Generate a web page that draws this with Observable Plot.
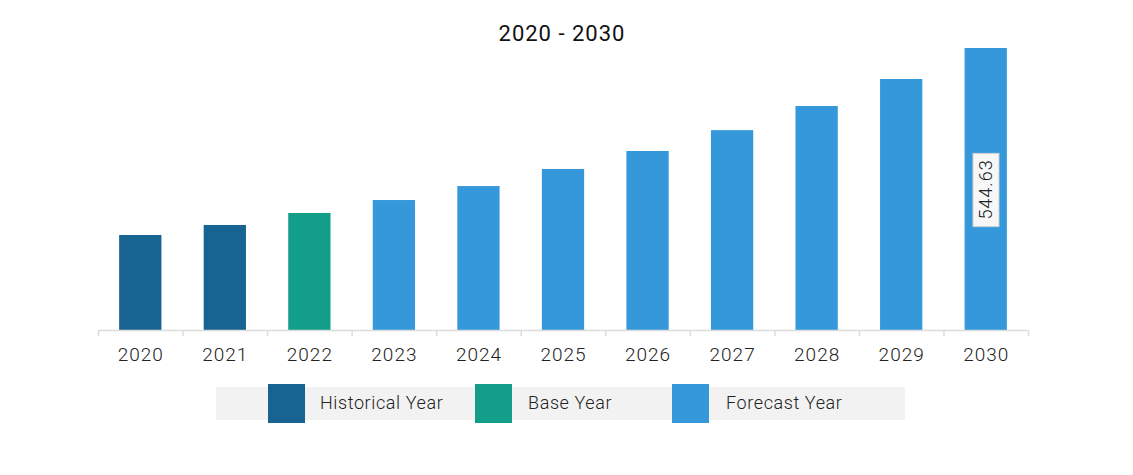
<!DOCTYPE html>
<html><head><meta charset="utf-8">
<script src="https://cdn.jsdelivr.net/npm/d3@7"></script>
<script src="https://cdn.jsdelivr.net/npm/@observablehq/plot@0.6"></script>
<style>
body{margin:0;background:#fff;font-family:Roboto,"Liberation Sans",sans-serif;}
#wrap{position:relative;width:1133px;height:475px;}
#title{position:absolute;left:0;width:1124px;top:21px;text-align:center;font-size:22px;color:#111;letter-spacing:1px;}
#legend{position:absolute;left:216px;top:387px;width:689px;height:33px;background:#f2f2f2;}
.sw{position:absolute;top:-3px;width:37px;height:39px;}
.lt{position:absolute;top:5px;font-size:18px;font-weight:300;color:#222;letter-spacing:0.6px;}
</style></head>
<body><div id="wrap"><div id="title">2020 - 2030</div><div id="legend"></div></div>
<script>
const years = ["2020","2021","2022","2023","2024","2025","2026","2027","2028","2029","2030"];
const values = [183.5, 202.8, 226, 251, 278, 311, 345.7, 386, 432.6, 484.8, 544.63];
const periods = ["Historical Year","Historical Year","Base Year","Forecast Year","Forecast Year","Forecast Year","Forecast Year","Forecast Year","Forecast Year","Forecast Year","Forecast Year"];
const legendLabels = ["Historical Year","Base Year","Forecast Year"];
const legendColors = ["#176392","#139e8a","#3498db"];
const labelYear = "2030";

const data = years.map((y,i)=>({year:y, value:values[i], period:periods[i]}));
const step = 930/11;

const chart = Plot.plot({
  width:1133, height:475,
  marginLeft:98, marginRight:105, marginTop:48, marginBottom:145,
  style:{fontFamily:"Roboto, 'Liberation Sans', sans-serif", background:"transparent"},
  x:{domain:years, paddingInner:0.5, paddingOuter:0.25, round:false, label:null},
  y:{domain:[0, d3.max(values)], axis:null},
  color:{domain:legendLabels, range:legendColors},
  marks:[
    Plot.barY(data,{x:"year", y:"value", fill:"period"}),
    Plot.ruleY([0],{stroke:"#dcdcdc", strokeWidth:1.5}),
    Plot.ruleX(years,{x:d=>d, y1:0, y2:0, dx:-step/2, stroke:"#dcdcdc", strokeWidth:1.5, insetBottom:-6}),
    Plot.ruleX([years[years.length-1]],{x:d=>d, y1:0, y2:0, dx:step/2, stroke:"#dcdcdc", strokeWidth:1.5, insetBottom:-6}),
    Plot.axisX({tickSize:0, tickPadding:17, fontSize:19, fontWeight:300, fill:"#222", className:"xax"}),
    Plot.text(data.filter(d=>d.year===labelYear),{x:"year", y:d=>d.value/2, text:d=>d.value.toFixed(2), rotate:-90, fontSize:18, fontWeight:300, fill:"#222", className:"vlabel"})
  ]
});
document.getElementById("wrap").prepend(chart);
chart.style.position="absolute"; chart.style.left="0"; chart.style.top="0";
chart.querySelectorAll(".xax text").forEach(e=>e.setAttribute("letter-spacing","1"));

const t = chart.querySelector(".vlabel text");
if (t) {
  t.setAttribute("letter-spacing","1");
  const b = t.getBBox();
  const g = t.parentNode;
  const r = document.createElementNS("http://www.w3.org/2000/svg","rect");
  const tr = t.getAttribute("transform");
  r.setAttribute("x", b.x-7); r.setAttribute("y", b.y-2);
  r.setAttribute("width", b.width+13); r.setAttribute("height", b.height+5);
  r.setAttribute("fill","#f7f7f7"); r.setAttribute("stroke","#d0d0d0");
  if (tr) r.setAttribute("transform", tr);
  g.insertBefore(r, t);
}

const lg = document.getElementById("legend");
const swX=[52,259,456], txX=[104,312,510];
legendLabels.forEach((l,i)=>{
  const s=document.createElement("div"); s.className="sw"; s.style.left=swX[i]+"px"; s.style.background=legendColors[i]; lg.appendChild(s);
  const t2=document.createElement("div"); t2.className="lt"; t2.style.left=txX[i]+"px"; t2.textContent=l; lg.appendChild(t2);
});
</script></body></html>
